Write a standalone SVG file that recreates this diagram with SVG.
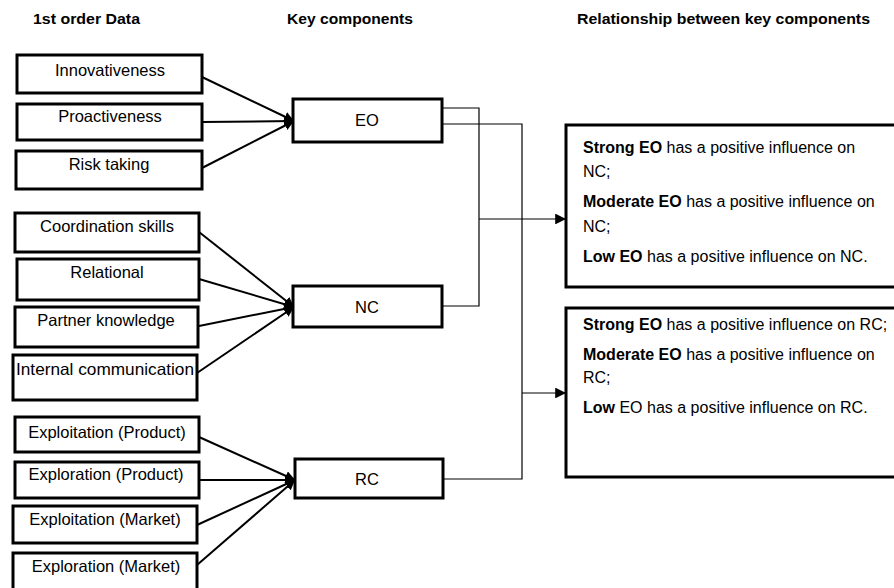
<svg xmlns="http://www.w3.org/2000/svg" width="894" height="588" viewBox="0 0 894 588">
  <defs>
    <marker id="arrow" viewBox="0 0 10 10" refX="10" refY="5" markerWidth="5" markerHeight="5" orient="auto" markerUnits="strokeWidth">
      <path d="M0,0 L10,5 L0,10 z" fill="#000"/>
    </marker>
    <marker id="arrowThin" viewBox="0 0 10 10" refX="10" refY="5" markerWidth="11" markerHeight="9" orient="auto" markerUnits="strokeWidth">
      <path d="M0,0 L10,5 L0,10 z" fill="#000"/>
    </marker>
  </defs>
  <style>
    text { font-family: "Liberation Sans", Arial, sans-serif; fill: #000; }
    .hdr { font-size: 15.5px; font-weight: bold; }
    .box { fill: #fff; stroke: #000; stroke-width: 3; }
    .lbl { font-size: 16.5px; text-anchor: middle; }
    .rel { font-size: 16px; }
    .rel tspan.b { font-weight: bold; }
    .feed { stroke: #000; stroke-width: 2; fill: none; marker-end: url(#arrow); }
    .link { stroke: #000; stroke-width: 1.2; fill: none; }
    .linkArrow { stroke: #000; stroke-width: 1.2; fill: none; marker-end: url(#arrowThin); }
  </style>
  <rect width="894" height="588" fill="#fff"/>

  <!-- column headers -->
  <g id="headers">
    <text class="hdr" x="33" y="24" textLength="107" lengthAdjust="spacingAndGlyphs">1st order Data</text>
    <text class="hdr" x="287" y="24" textLength="126" lengthAdjust="spacingAndGlyphs">Key components</text>
    <text class="hdr" x="577" y="24" textLength="293" lengthAdjust="spacingAndGlyphs">Relationship between key components</text>
  </g>

  <!-- connectors -->
  <g id="connectors">
    <!-- first order data into EO -->
    <line class="feed" x1="202" y1="77" x2="294" y2="121"/>
    <line class="feed" x1="202" y1="122" x2="294" y2="121"/>
    <line class="feed" x1="202" y1="168" x2="294" y2="121"/>
    <!-- first order data into NC -->
    <line class="feed" x1="199" y1="232" x2="294" y2="307"/>
    <line class="feed" x1="199" y1="279" x2="294" y2="307"/>
    <line class="feed" x1="199" y1="326" x2="294" y2="307"/>
    <line class="feed" x1="197" y1="373" x2="294" y2="307"/>
    <!-- first order data into RC -->
    <line class="feed" x1="199" y1="437" x2="295" y2="480"/>
    <line class="feed" x1="199" y1="480" x2="295" y2="480"/>
    <line class="feed" x1="197" y1="525" x2="295" y2="480"/>
    <line class="feed" x1="197" y1="565" x2="295" y2="480"/>
    <!-- EO and NC to the NC relationship box -->
    <polyline class="link" points="442,108 479,108 479,306 442,306"/>
    <line class="linkArrow" x1="479" y1="219" x2="566" y2="219"/>
    <!-- EO and RC to the RC relationship box -->
    <polyline class="link" points="442,124 522,124 522,479 443,479"/>
    <line class="linkArrow" x1="522" y1="393" x2="566" y2="393"/>
  </g>

  <!-- first order data -->
  <g id="innovativeness"><rect class="box" x="17" y="55" width="185" height="38"/><text class="lbl" x="110" y="76">Innovativeness</text></g>
  <g id="proactiveness"><rect class="box" x="17" y="104" width="185" height="36"/><text class="lbl" x="110" y="122">Proactiveness</text></g>
  <g id="risk-taking"><rect class="box" x="16" y="151" width="186" height="38"/><text class="lbl" x="109" y="170">Risk taking</text></g>

  <g id="coordination-skills"><rect class="box" x="15" y="213" width="184" height="39"/><text class="lbl" x="107" y="232">Coordination skills</text></g>
  <g id="relational"><rect class="box" x="17" y="259" width="182" height="41"/><text class="lbl" x="107" y="278">Relational</text></g>
  <g id="partner-knowledge"><rect class="box" x="15" y="307" width="183" height="40"/><text class="lbl" x="106" y="326">Partner knowledge</text></g>
  <g id="internal-communication"><rect class="box" x="13" y="355" width="184" height="45"/><text class="lbl" x="105" y="375" textLength="178" lengthAdjust="spacingAndGlyphs">Internal communication</text></g>

  <g id="exploitation-product"><rect class="box" x="15" y="417" width="184" height="35"/><text class="lbl" x="107" y="438">Exploitation (Product)</text></g>
  <g id="exploration-product"><rect class="box" x="15" y="462" width="184" height="36"/><text class="lbl" x="106" y="480">Exploration (Product)</text></g>
  <g id="exploitation-market"><rect class="box" x="13" y="506" width="184" height="37"/><text class="lbl" x="105" y="525">Exploitation (Market)</text></g>
  <g id="exploration-market"><rect class="box" x="13" y="553" width="184" height="37"/><text class="lbl" x="106" y="572">Exploration (Market)</text></g>

  <!-- key components -->
  <g id="eo"><rect class="box" x="293" y="99" width="149" height="43"/><text class="lbl" x="367" y="126">EO</text></g>
  <g id="nc"><rect class="box" x="293" y="286" width="149" height="41"/><text class="lbl" x="367" y="313">NC</text></g>
  <g id="rc"><rect class="box" x="295" y="459" width="148" height="39"/><text class="lbl" x="367" y="485">RC</text></g>

  <!-- relationships -->
  <g id="rel-nc">
    <rect class="box" x="566" y="125" width="340" height="162"/>
    <text class="rel" x="583" y="153"><tspan class="b">Strong EO</tspan> has a positive influence on</text>
    <text class="rel" x="583" y="177">NC;</text>
    <text class="rel" x="583" y="207"><tspan class="b">Moderate EO</tspan> has a positive influence on</text>
    <text class="rel" x="583" y="232">NC;</text>
    <text class="rel" x="583" y="262"><tspan class="b">Low EO</tspan> has a positive influence on NC.</text>
  </g>
  <g id="rel-rc">
    <rect class="box" x="566" y="308" width="340" height="169"/>
    <text class="rel" x="583" y="330"><tspan class="b">Strong EO</tspan> has a positive influence on RC;</text>
    <text class="rel" x="583" y="360"><tspan class="b">Moderate EO</tspan> has a positive influence on</text>
    <text class="rel" x="583" y="383">RC;</text>
    <text class="rel" x="583" y="413"><tspan class="b">Low</tspan> EO has a positive influence on RC.</text>
  </g>
</svg>
